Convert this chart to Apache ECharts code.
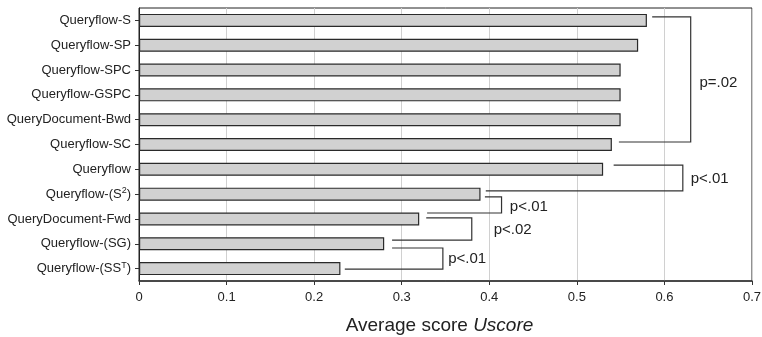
<!DOCTYPE html>
<html><head><meta charset="utf-8">
<script src="https://cdn.jsdelivr.net/npm/echarts@6/dist/echarts.min.js"></script>
<style>html,body{margin:0;padding:0;background:#fff}#c{width:762px;height:337px}</style>
</head><body><div id="c"></div>
<script>
var categories = ['Queryflow-S','Queryflow-SP','Queryflow-SPC','Queryflow-GSPC','QueryDocument-Bwd','Queryflow-SC','Queryflow','Queryflow-(S^2)','QueryDocument-Fwd','Queryflow-(SG)','Queryflow-(SS^T)'];
var scores = [0.58,0.57,0.55,0.55,0.55,0.54,0.53,0.39,0.32,0.28,0.23];
var xTicks = [0,0.1,0.2,0.3,0.4,0.5,0.6,0.7];
// brackets: [yTop, yBottom, xTopStart, xBottomStart, xVertical, labelX, labelY, label]
var brackets = [
  [-0.14, 4.90, 0.586, 0.548, 0.630, 0.640, 2.52, 'p=.02'],
  [5.83, 6.87, 0.542, 0.396, 0.621, 0.630, 6.40, 'p<.01'],
  [7.11, 7.76, 0.395, 0.329, 0.414, 0.4235, 7.52, 'p<.01'],
  [7.96, 8.85, 0.328, 0.289, 0.380, 0.405, 8.45, 'p<.02'],
  [9.17, 10.02, 0.289, 0.235, 0.347, 0.353, 9.62, 'p<.01']
];
var font = 'Liberation Sans, Arial, sans-serif';
var chart = echarts.init(document.getElementById('c'));
chart.setOption({
  animation: false,
  grid: {left: 139, right: 10, top: 8, bottom: 56, show: true, borderColor: '#222', borderWidth: 1, outerBoundsMode: 'none', containLabel: false},
  xAxis: {
    type: 'value', min: 0, max: 0.7, interval: 0.1,
    name: '{a|Average score }{b|Uscore}', nameLocation: 'middle', nameGap: 35,
    nameTextStyle: {padding: [0, 12, 0, 0], rich: {a: {fontSize: 19, fontFamily: font, color: '#222'}, b: {fontSize: 19, fontFamily: font, fontStyle: 'italic', color: '#222'}}},
    axisLine: {show: true, onZero: false, lineStyle: {color: '#333', width: 1.5}},
    axisTick: {show: true, length: 4, lineStyle: {color: '#333'}},
    axisLabel: {fontSize: 13, fontFamily: font, color: '#222', margin: 10, formatter: function(v){ return xTicks.indexOf(Math.round(v*10)/10) >= 0 ? String(Math.round(v*10)/10) : ''; }},
    splitLine: {show: true, lineStyle: {color: '#d0d0d0', width: 1}}
  },
  yAxis: [{
    type: 'category', data: categories, inverse: true,
    axisLine: {show: true, onZero: false, lineStyle: {color: '#222'}},
    axisTick: {show: true, length: 4, alignWithLabel: true, lineStyle: {color: '#333'}},
    axisLabel: {fontSize: 13, fontFamily: font, color: '#222', margin: 8,
      formatter: function(v){
        var m = v.match(/^(.*)\^(.)(.*)$/);
        if (m) return '{n|' + m[1] + '}{s|' + m[2] + '}{n|' + m[3] + '}';
        return '{n|' + v + '}';
      },
      rich: {n: {fontSize: 13, fontFamily: font, color: '#222'}, s: {fontSize: 9, fontFamily: font, color: '#222', padding: [0,0,7,0]}}
    },
    splitLine: {show: false}
  }, {
    type: 'value', min: -0.5, max: 10.5, inverse: true, show: false,
    axisLine: {show: false, onZero: false}, splitLine: {show: false}, axisTick: {show: false}, axisLabel: {show: false}
  }],
  series: [{
    type: 'bar', data: scores, barWidth: 13,
    itemStyle: {color: '#d1d1d1', borderColor: '#2a2a2a', borderWidth: 1.2}
  }, {
    type: 'custom', yAxisIndex: 1, data: brackets, silent: true,
    renderItem: function(params, api){
      var b = brackets[params.dataIndex];
      var t0 = api.coord([b[2], b[0]]), tv = api.coord([b[4], b[0]]);
      var b0 = api.coord([b[3], b[1]]), bv = api.coord([b[4], b[1]]);
      var lp = api.coord([b[5], b[6]]);
      var st = {stroke: '#333', lineWidth: 1.2, fill: null};
      return {type: 'group', children: [
        {type: 'polyline', shape: {points: [t0, tv, bv, b0]}, style: st},
        {type: 'text', x: lp[0], y: lp[1], style: {text: b[7], fontSize: 15, fontFamily: font, fill: '#222', verticalAlign: 'middle'}}
      ]};
    }
  }]
});
</script></body></html>
